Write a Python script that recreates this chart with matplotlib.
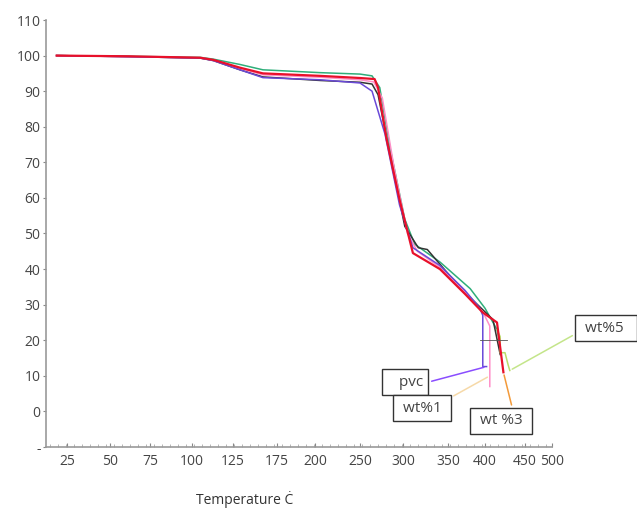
import numpy as np
import matplotlib
matplotlib.use("Agg")
import matplotlib.pyplot as plt
from matplotlib.scale import FuncScale
from matplotlib.ticker import FixedLocator

# weight loss curves (temperature, wt %)
temp_pvc = [19, 62, 105, 113, 133, 159, 206, 250, 264, 279, 296, 311, 341, 373, 393, 397, 397, 402]
wt_pvc = [100, 99.7, 99.3, 98.6, 96.0, 93.8, 93.2, 92.3, 90, 78, 58, 46, 41, 34, 29, 27, 12.6, 12.6]

temp_wt1 = [19, 62, 105, 113, 133, 159, 206, 250, 266, 276, 290, 305, 316, 341, 373, 397, 406, 406]
wt_wt1 = [100, 99.7, 99.4, 98.7, 96.4, 94.6, 93.9, 93.2, 92.6, 88, 68, 50, 45, 40.5, 33.5, 28, 24, 7]

temp_wt3 = [19, 62, 105, 113, 133, 159, 206, 250, 267, 271, 281, 296, 311, 319, 341, 373, 397, 415, 419, 423]
wt_wt3 = [100, 99.8, 99.4, 98.8, 96.6, 95.0, 94.3, 93.7, 93.4, 91, 76.4, 59.5, 44.5, 43.3, 40, 33, 27.8, 25, 18, 11]

temp_blk = [19, 62, 105, 113, 133, 159, 206, 250, 264, 271, 285, 302, 317, 327, 353, 380, 410, 419]
wt_blk = [100, 99.7, 99.3, 98.6, 96.0, 94.0, 93.0, 92.5, 92.0, 89, 72, 52, 46, 45.5, 38, 32, 25.8, 16]

temp_grn = [19, 62, 105, 113, 133, 159, 206, 250, 264, 273, 285, 302, 313, 341, 380, 400, 415, 419]
wt_grn = [100, 99.8, 99.5, 99.0, 97.5, 96.0, 95.2, 94.8, 94.3, 91, 74, 54, 47, 42, 34.5, 29, 23, 19]

temp_wt5 = [415, 419, 419, 425, 429, 431]
wt_wt5 = [23, 21, 16.5, 16.5, 13, 11.5]

cross_temp = [393, 427]
cross_wt = 20

tick_temps = [25, 50, 75, 100, 125, 175, 200, 250, 300, 350, 400, 450, 500]
y_ticks = list(range(-10, 111, 10))
y_labels = ['-'] + [str(v) for v in y_ticks[1:]]

# the original axis is not linear: pixel position of each tick label
tick_px = [67, 110, 150, 192, 233, 277, 315, 360, 403, 448, 485, 525, 552]
ext_t = np.array([-100] + tick_temps + [700], dtype=float)
ext_p = np.array([-148] + tick_px + [660], dtype=float)


def fwd(t):
    return np.interp(t, ext_t, ext_p)


def inv(p):
    return np.interp(p, ext_p, ext_t)


plt.rcParams['font.family'] = ['Open Sans', 'DejaVu Sans']

fig = plt.figure(figsize=(6.37, 5.17), dpi=100)
ax = fig.add_axes([46 / 637, 1 - 447 / 517, (552 - 46) / 637, (447 - 20) / 517])
ax.set_xscale(FuncScale(ax.xaxis, (fwd, inv)))

ax.plot(temp_grn, wt_grn, color='#2fae7a', lw=1.1)
ax.plot(temp_blk, wt_blk, color='#333333', lw=1.1)
ax.plot(temp_wt1, wt_wt1, color='#ff8fc8', lw=1.1)
ax.plot(temp_pvc, wt_pvc, color='#6a4ad8', lw=1.1)
ax.plot(temp_wt5, wt_wt5, color='#b9dc6a', lw=1.1)
ax.plot(temp_wt3, wt_wt3, color='#e8102a', lw=1.6)
ax.plot(cross_temp, [cross_wt, cross_wt], color='#555555', lw=0.6)

box = dict(boxstyle='square,pad=0.35', fc='white', ec='#333333', lw=1)
lbl = dict(textcoords='figure pixels', fontsize=11, color='#444444', ha='center', va='center',
           bbox=box, annotation_clip=False)
ax.annotate('   pvc', xy=(temp_pvc[-1], wt_pvc[-1]), xytext=(405, 135),
            arrowprops=dict(arrowstyle='-', color='#8a4dff', lw=1.1, relpos=(1, 0.4)), **lbl)
ax.annotate(' wt%1 ', xy=(406, 10), xytext=(422, 109),
            arrowprops=dict(arrowstyle='-', color='#f6d9a8', lw=1.1, relpos=(1, 1)), **lbl)
ax.annotate(' wt %3 ', xy=(temp_wt3[-1], wt_wt3[-1]), xytext=(501, 96),
            arrowprops=dict(arrowstyle='-', color='#f39a3a', lw=1.1, relpos=(0.75, 1)), **lbl)
ax.annotate(' wt%5  ', xy=(temp_wt5[-1], wt_wt5[-1]), xytext=(606, 189),
            arrowprops=dict(arrowstyle='-', color='#c4e58a', lw=1.1, relpos=(0, 0.3)), **lbl)

ax.set_xlim(inv(46), 500)
ax.set_ylim(-10, 110)
ax.set_xticks(tick_temps)
ax.set_xticklabels([str(t) for t in tick_temps])
ax.xaxis.set_minor_locator(FixedLocator(inv(np.arange(50, 552, 8))))
ax.set_yticks(y_ticks)
ax.set_yticklabels(y_labels)

for s in ['top', 'right']:
    ax.spines[s].set_visible(False)
for s in ['left', 'bottom']:
    ax.spines[s].set_color('#999999')
    ax.spines[s].set_linewidth(1.2)

ax.tick_params(axis='x', which='major', direction='in', length=3, color='#888888',
               labelsize=10, labelcolor='#444444', pad=5)
ax.tick_params(axis='x', which='minor', direction='in', length=2, color='#aaaaaa')
ax.tick_params(axis='y', direction='out', length=2, color='#888888',
               labelsize=10, labelcolor='#444444', pad=2)

fig.text(245 / 637, 1 - 500 / 517, 'Temperature Ċ', ha='center', va='center',
         fontsize=10, color='#333333')

fig.savefig('out.png', dpi=100)
